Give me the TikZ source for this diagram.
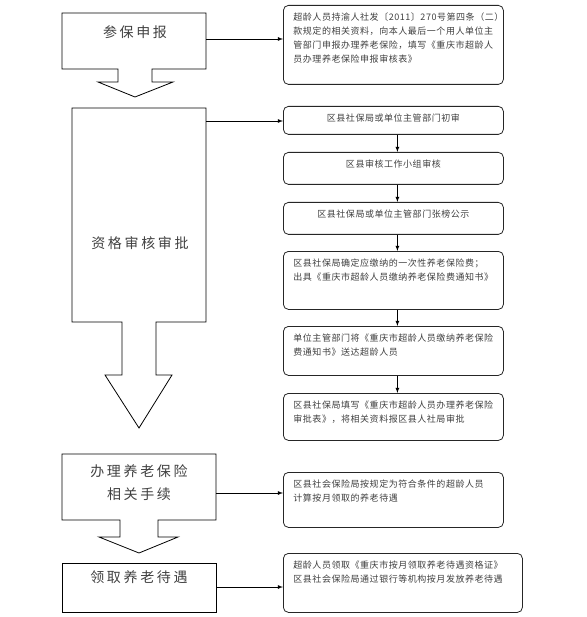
\documentclass[tikz,border=0pt]{standalone}
\usepackage{fontspec}
\setmainfont{Noto Sans CJK SC}
\newfontfamily\cjkbig[LetterSpace=19]{Noto Sans CJK SC}
\newfontfamily\cjksmall[LetterSpace=6]{Noto Sans CJK SC}
\usepackage{tikz}
\usetikzlibrary{arrows}
\newcommand{\boxtext}[3][200pt]{\parbox[t][#2][t]{#1}{\raggedright #3}}

\begin{document}
\begin{tikzpicture}[x=1pt,y=-1pt,->,>=latex,line width=0.8pt]
		\tikzstyle{rbox}=[draw=black!85,rounded corners=5pt,inner xsep=10pt,inner ysep=7pt,
			anchor=north west,text=black!75,font=\cjksmall\fontsize{9}{14}\selectfont]
		\tikzstyle{ltext}=[text=black!75,font=\cjkbig\fontsize{14}{23}\selectfont,align=center]
		\tikzstyle{blockline}=[-,draw=black]
		
		\useasboundingbox (0,0) rectangle (586,617);
		
		% right column
		\node[rbox] (b1) at (283,5) {\boxtext{65pt}{超龄人员持渝人社发〔2011〕270号第四条（二）\\
				款规定的相关资料，向本人最后一个用人单位主\\
				管部门申报办理养老保险，填写《重庆市超龄人\\
				员办理养老保险申报审核表》}};
		\node[rbox] (b2) at (283,106) {\boxtext{14pt}{\centering 区县社保局或单位主管部门初审}};
		\node[rbox] (b3) at (283,152) {\boxtext{18pt}{\centering 区县审核工作小组审核}};
		\node[rbox] (b4) at (283,202) {\boxtext{18pt}{\centering 区县社保局或单位主管部门张榜公示}};
		\node[rbox] (b5) at (283,251) {\boxtext{44pt}{区县社保局确定应缴纳的一次性养老保险费；\\
				出具《重庆市超龄人员缴纳养老保险费通知书》}};
		\node[rbox] (b6) at (283,326) {\boxtext{35pt}{单位主管部门将《重庆市超龄人员缴纳养老保险\\
				费通知书》送达超龄人员}};
		\node[rbox] (b7) at (283,393) {\boxtext{33pt}{区县社保局填写《重庆市超龄人员办理养老保险\\
				审批表》，将相关资料报区县人社局审批}};
		\node[rbox] (b8) at (283,472) {\boxtext{41pt}{区县社会保险局按规定为符合条件的超龄人员\\
				计算按月领取的养老待遇}};
		\node[rbox] (b9) at (283,553) {\boxtext[219pt]{45pt}{超龄人员领取《重庆市按月领取养老待遇资格证》\\
				区县社会保险局通过银行等机构按月发放养老待遇}};
		
		\foreach \a/\b in {b2/b3,b3/b4,b4/b5,b5/b6,b6/b7}
		\draw ([xshift=4pt]\a.south) -- ([xshift=4pt]\b.north);
		
		% left column
		\draw[blockline] (62,13) -- (206,13) -- (206,69) -- (152,69) -- (152,82) -- (173,82)
		-- (135,97) -- (98,82) -- (118,82) -- (118,69) -- (62,69) -- cycle;
		\node[ltext] (s1) at (135,32) {参保申报};
		
		\draw[blockline] (72,108) -- (206,108) -- (206,322) -- (156,322) -- (156,375) -- (172,375)
		-- (139,428) -- (105,375) -- (122,375) -- (122,322) -- (72,322) -- cycle;
		\node[ltext] (s2) at (140,243) {资格审核审批};
		
		\draw[blockline] (62,454) -- (216,454) -- (216,520) -- (158,520) -- (158,537) -- (178,537)
		-- (139,553) -- (99,537) -- (120,537) -- (120,520) -- (62,520) -- cycle;
		\node[ltext] (s3) at (139,483) {办理养老保险\\相关手续};
		
		\draw[blockline] (62,563) rectangle (216,612);
		\node[ltext] (s4) at (139,577) {领取养老待遇};
		
		\coordinate (o1) at (206,39);
		\coordinate (o2) at (206,121);
		\coordinate (o3) at (216,493);
		\coordinate (o4) at (216,587);
		\draw (o1) -- (o1 -| b1.west);
		\draw (o2) -- (o2 -| b2.west);
		\draw (o3) -- (o3 -| b8.west);
		\draw (o4) -- (o4 -| b9.west);
\end{tikzpicture}
\end{document}
